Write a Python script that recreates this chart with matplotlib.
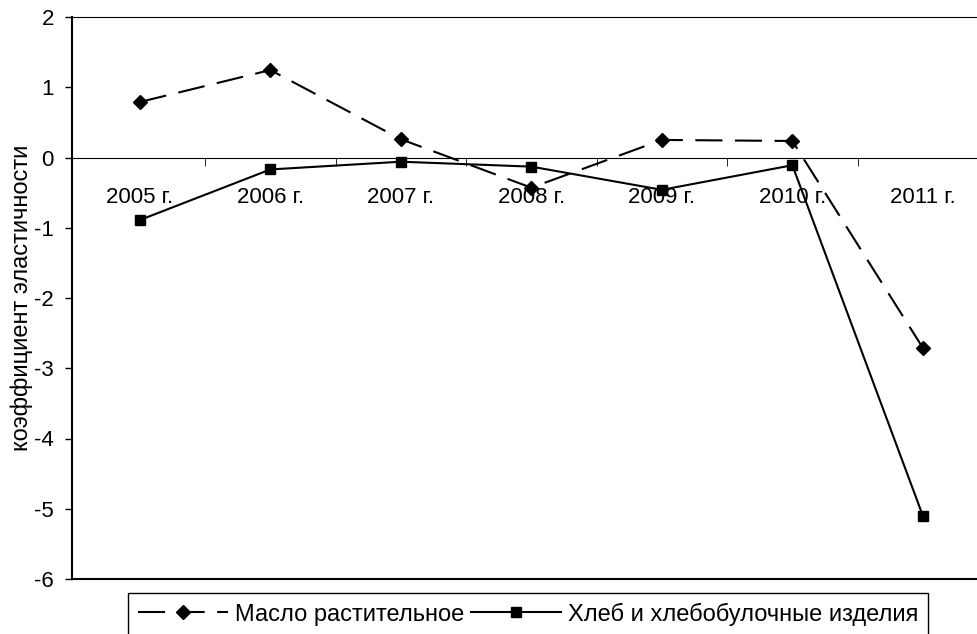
import numpy as np
import matplotlib.pyplot as plt

plt.rcParams['font.family'] = ['Liberation Sans', 'DejaVu Sans']
plt.rcParams['axes.unicode_minus'] = False

years = ["2005 г.", "2006 г.", "2007 г.", "2008 г.", "2009 г.", "2010 г.", "2011 г."]
oil = [0.79, 1.245, 0.26, -0.43, 0.25, 0.235, -2.71]
bread = [-0.89, -0.17, -0.06, -0.13, -0.46, -0.11, -5.1]

oil_label = "Масло растительное"
bread_label = "Хлеб и хлебобулочные изделия"
y_label = "коэффициент эластичности"

W, H = 977, 634
fig = plt.figure(figsize=(W / 100, H / 100), dpi=100)
ax = fig.add_axes([72 / W, 1 - 579 / H, 1 - 72 / W, (579 - 17) / H])

x = np.arange(len(years))
ax.plot(x, oil, color="black", lw=1.5, dashes=(13, 6), marker="D",
        markersize=7, label=oil_label)
ax.plot(x, bread, color="black", lw=1.5, marker="s", markersize=6.5,
        label=bread_label)

ax.set_xlim(-0.52, -0.52 + 905 / 130.5)
ax.set_ylim(-6, 2)
ax.set_yticks(range(-6, 3))
ax.tick_params(axis="y", labelsize=16, length=5, direction="out", width=1,
               pad=8)

# category axis crosses at zero
ax.spines["bottom"].set_position(("data", 0))
ax.spines["right"].set_visible(False)
ax.spines["top"].set_linewidth(0.8)
ax.axhline(-6, color="black", lw=1.5, clip_on=False)
ax.spines["left"].set_linewidth(1.5)
ax.set_xticks(x)
ax.set_xticklabels(years)
ax.set_xticks(x[:-1] + 0.5, minor=True)
ax.tick_params(axis="x", which="major", length=0, labelsize=16, pad=21)
ax.tick_params(axis="x", which="minor", length=6, direction="out")

ax.set_ylabel(y_label, fontsize=17)
ax.yaxis.set_label_coords((33 - 72) / 905, 0.5)

fig.legend(loc="center", bbox_to_anchor=(528 / W, 1 - 614 / H), ncol=2,
           fontsize=17, frameon=True, fancybox=False, edgecolor="black",
           handlelength=3.8, columnspacing=0.3, handletextpad=0.3,
           borderpad=0.4, framealpha=1)

fig.savefig("out.png", dpi=100)
